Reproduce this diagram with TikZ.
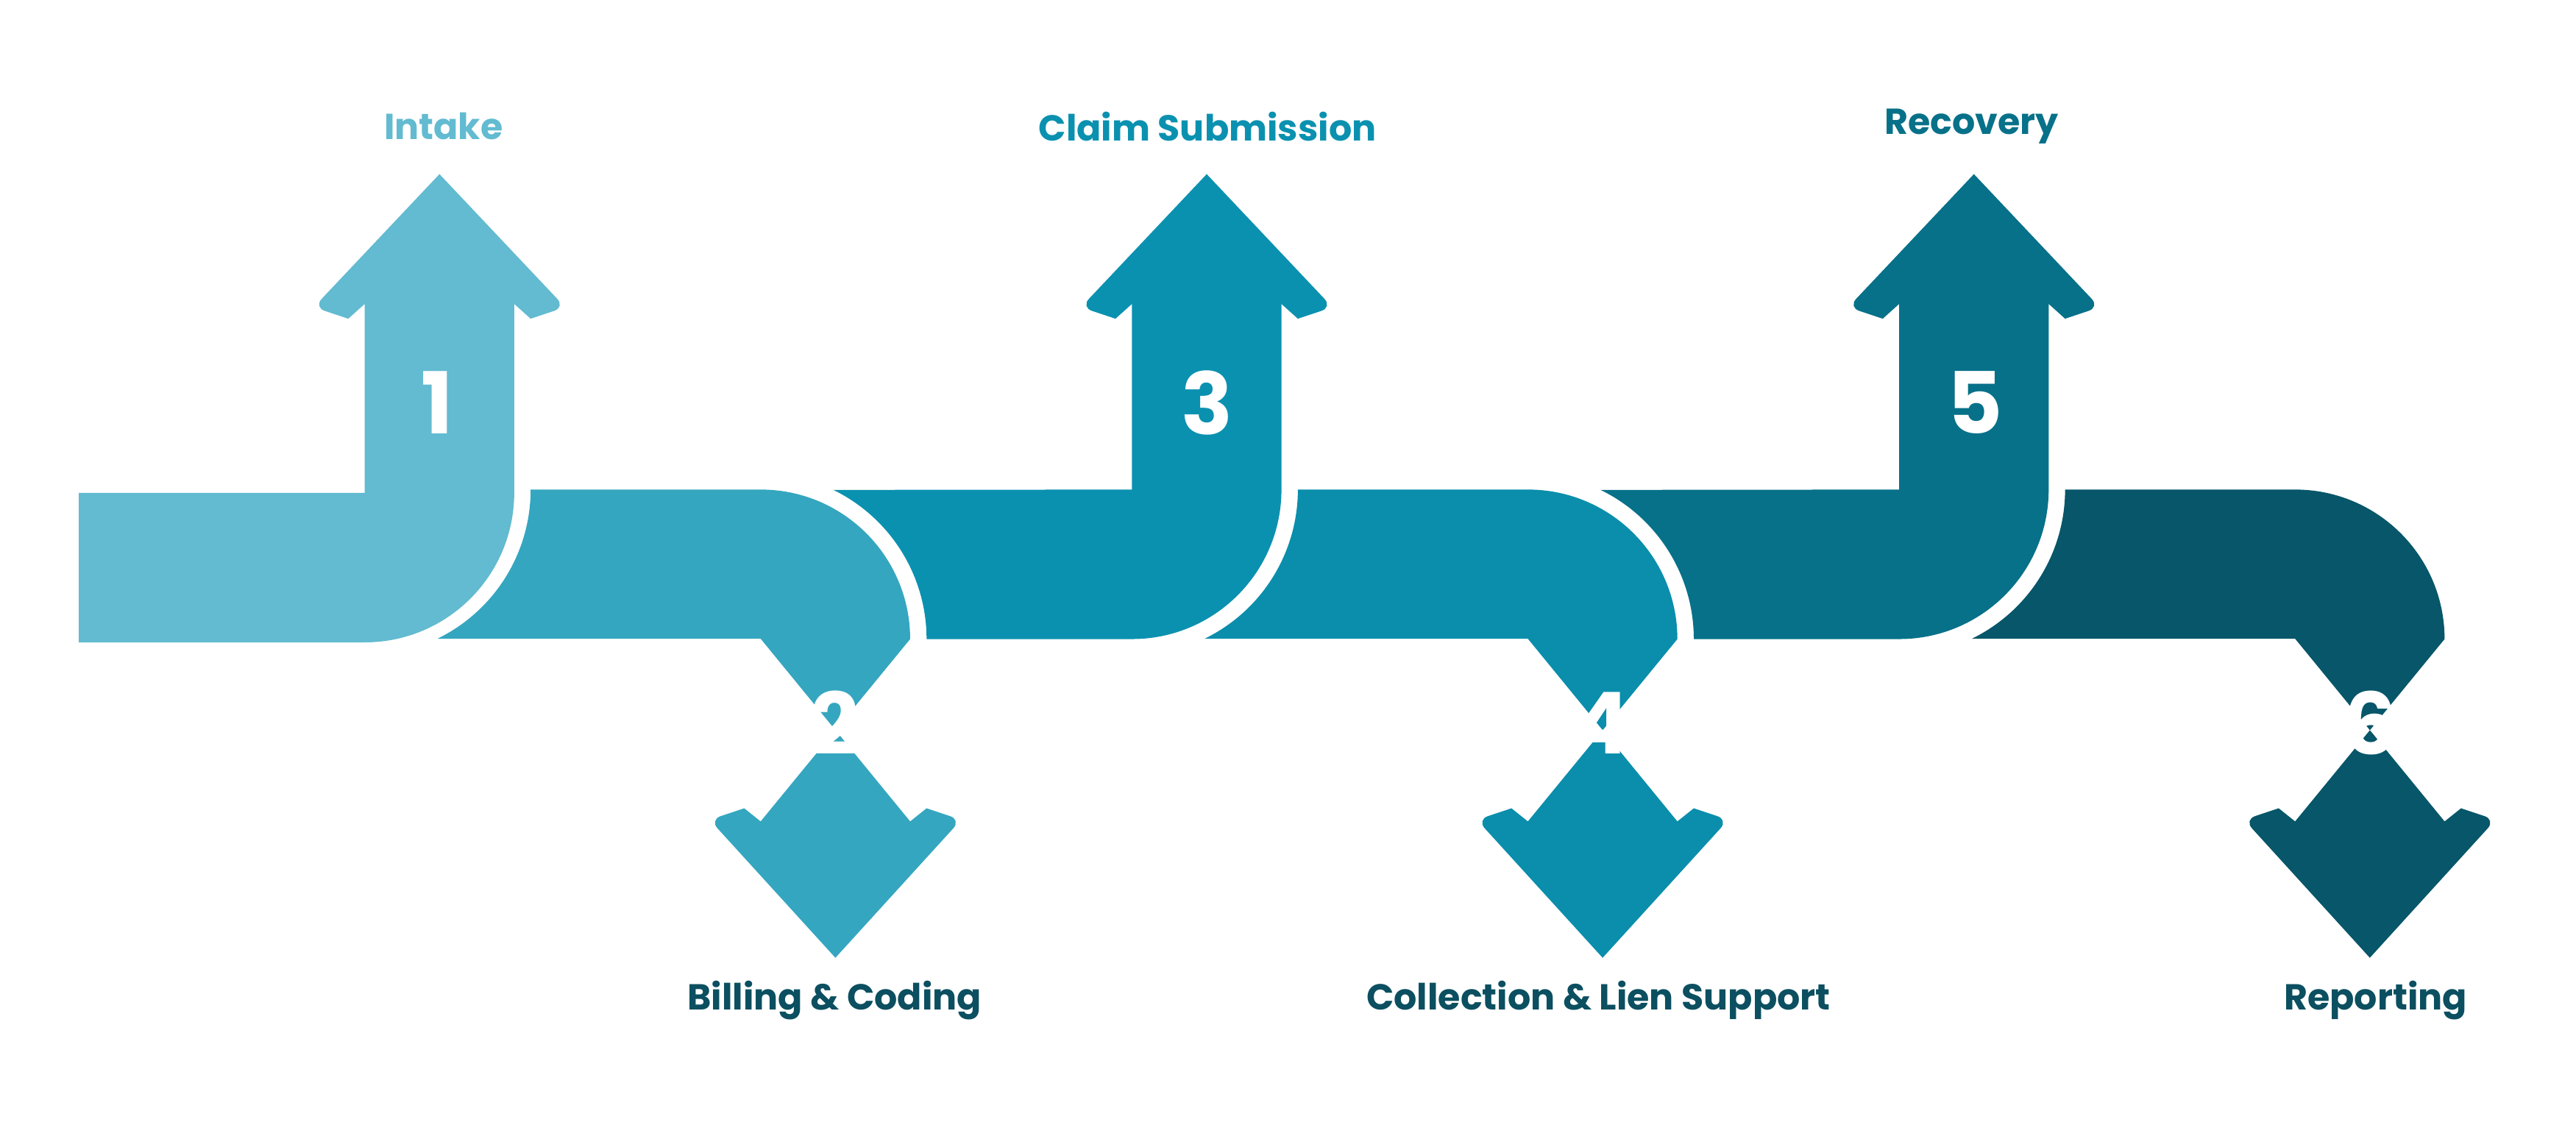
\documentclass[tikz,border=0pt]{standalone}
\usepackage{fontspec}
\setmainfont{Poppins}
\usetikzlibrary{positioning}
\definecolor{stepA}{HTML}{62BBD0}
\definecolor{stepB}{HTML}{35A6C0}
\definecolor{stepC}{HTML}{0B91B0}
\definecolor{stepD}{HTML}{0A8EAC}
\definecolor{stepE}{HTML}{077189}
\definecolor{stepF}{HTML}{075669}
\definecolor{labdark}{HTML}{0B4F60}
% arrow heads, L = left shaft edge, R = right shaft edge
\newcommand{\headup}[2]{-- (#1,508) -- (#1-10,499) [rounded corners=7] -- (#1-31,506) [sharp corners] -- ({(#1+#2)/2},587) [rounded corners=7] -- (#2+31,506) [sharp corners] -- (#2+10,499) -- (#2,508)}
\newcommand{\headdown}[2]{-- (#2,193) -- (#2+10,201) [rounded corners=7] -- (#2+31,194) [sharp corners] -- ({(#1+#2)/2},110) [rounded corners=7] -- (#1-31,194) [sharp corners] -- (#1-10,201) -- (#1,193)}
\begin{document}
\begin{tikzpicture}[x=1pt,y=1pt]
  \tikzset{num/.style={text=white,font=\bfseries\fontsize{52}{52}\selectfont},
           lab/.style={font=\bfseries\fontsize{22}{22}\selectfont}}
  \useasboundingbox (0,0) rectangle (1568,693);
  % step 1
  \fill[stepA] (48,302) -- (48,393) -- (222,393) \headup{222}{313} -- (313,393)
    arc[start angle=0,end angle=-90,radius=91] -- cycle;
  % steps 2, 4, 6
  \foreach \sx/\col in {0/stepB,467/stepD,934/stepF}{
    \begin{scope}[xshift=\sx]
      \fill[\col] (323,395) arc[start angle=0,end angle=-64,radius=101] -- (463,304.2)
        \headdown{463}{554} -- (554,304) arc[start angle=0,end angle=90,radius=91] -- cycle;
    \end{scope}}
  % steps 3, 5
  \foreach \sx/\col in {0/stepC,467/stepE}{
    \begin{scope}[xshift=\sx]
      \fill[\col] (564,304) arc[start angle=0,end angle=64,radius=101] -- (689,395)
        \headup{689}{780} -- (780,395) arc[start angle=0,end angle=-90,radius=91] -- cycle;
    \end{scope}}
  \node[num] (n1) at (266,448) {1};
  \node[num] (n2) at (508,253) {2};
  \node[num] (n3) at (735,448) {3};
  \node[num] (n4) at (975,253) {4};
  \node[num] (n5) at (1202,448) {5};
  \node[num] (n6) at (1443,253) {6};
  \node[lab,text=stepA] (intake) at (270,616) {Intake};
  \node[lab,text=stepC] (claim) at (735,616) {Claim Submission};
  \node[lab,text=stepE] (recovery) at (1200,616) {Recovery};
  \node[lab,text=labdark] (billing) at (508,84) {Billing \& Coding};
  \node[lab,text=labdark] (collection) at (973,84) {Collection \& Lien Support};
  \node[lab,text=labdark] (reporting) at (1446,84) {Reporting};
\end{tikzpicture}
\end{document}
